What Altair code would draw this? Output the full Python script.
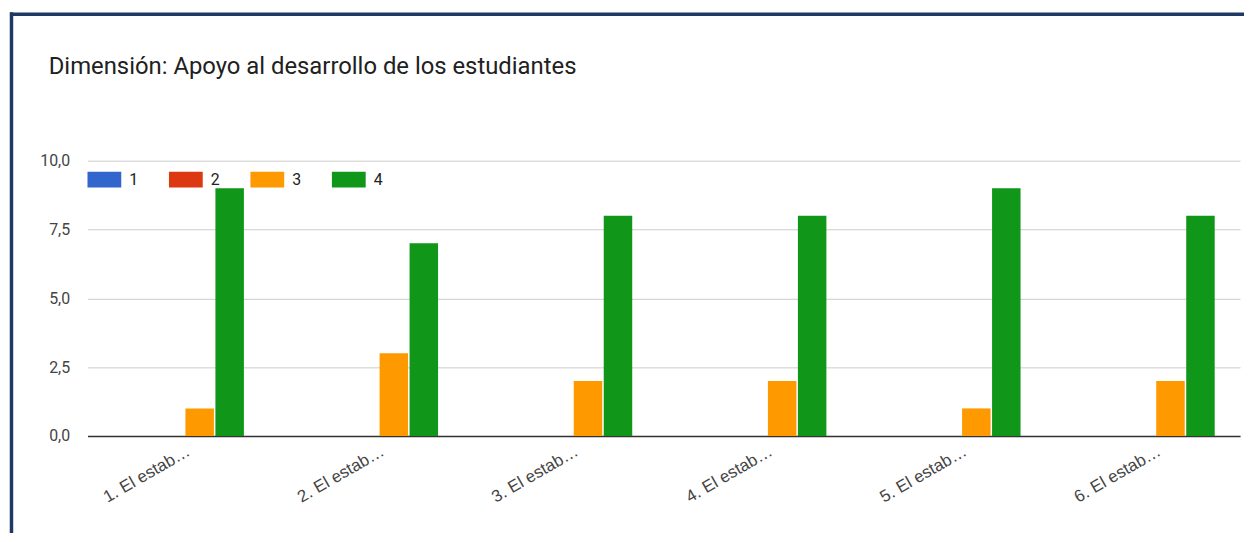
import altair as alt
import pandas as pd

categories = ["1. El estab…", "2. El estab…", "3. El estab…", "4. El estab…", "5. El estab…", "6. El estab…"]
series = ["1", "2", "3", "4"]
values_1 = [0, 0, 0, 0, 0, 0]
values_2 = [0, 0, 0, 0, 0, 0]
values_3 = [1, 3, 2, 2, 1, 2]
values_4 = [9, 7, 8, 8, 9, 8]
colors = ["#3366cc", "#dc3912", "#ff9900", "#109618"]
y_ticks = [0, 2.5, 5, 7.5, 10]
title_text = "Dimensión: Apoyo al desarrollo de los estudiantes"

rows = []
for s, vals in zip(series, [values_1, values_2, values_3, values_4]):
    for c, v in zip(categories, vals):
        rows.append({"categoria": c, "serie": s, "valor": v})
df = pd.DataFrame(rows)

bars = alt.Chart(df).mark_bar(strokeWidth=0).encode(
    x=alt.X("categoria:N", sort=categories,
            scale=alt.Scale(paddingInner=0.39, paddingOuter=0.163, align=0.6),
            axis=alt.Axis(title=None, labelAngle=-30, labelAlign="right", labelBaseline="top",
                          labelFont="Liberation Sans", labelFontSize=17, labelColor="#444444",
                          ticks=False, domainColor="#333333", domainWidth=1.5, labelPadding=7)),
    xOffset=alt.XOffset("serie:N", sort=series, scale=alt.Scale(paddingInner=0.05)),
    y=alt.Y("valor:Q", scale=alt.Scale(domain=[0, 10], nice=False),
            axis=alt.Axis(values=y_ticks, title=None,
                          labelExpr="replace(format(datum.value, '.1f'), '.', ',')",
                          ticks=False, domain=False, gridColor="#cccccc", gridWidth=1,
                          labelFont="Roboto", labelFontSize=16, labelColor="#444444",
                          labelPadding=18)),
    color=alt.Color("serie:N", sort=series,
                    scale=alt.Scale(domain=series, range=colors),
                    legend=alt.Legend(title=None, orient="none", legendX=0, legendY=2,
                                      direction="horizontal",
                                      symbolType="M-1,-0.47H1V0.47H-1Z", symbolSize=1156,
                                      symbolStrokeWidth=0, symbolOpacity=1,
                                      labelFont="Roboto", labelFontSize=16, labelColor="#222222",
                                      labelOffset=8, columnPadding=31)),
)

frame_df = pd.DataFrame({"k": [0]})
top_border = alt.Chart(frame_df).mark_rule(color="#1f3864", strokeWidth=3.5).encode(
    x=alt.value(-78), x2=alt.value(1170), y=alt.value(-147.5)
)
left_border = alt.Chart(frame_df).mark_rule(color="#1f3864", strokeWidth=3.5).encode(
    x=alt.value(-76.5), y=alt.value(-149.5), y2=alt.value(380)
)

chart = alt.layer(bars, top_border, left_border).properties(
    width=1160, height=277,
    background="white",
    autosize=alt.AutoSizeParams(type="none"),
    padding={"left": 80, "top": 152, "right": 4, "bottom": 96},
    title=alt.TitleParams(title_text, anchor="start", frame="group", dx=-39, fontSize=24,
                          font="Roboto", fontWeight="normal", color="#212121",
                          baseline="alphabetic", offset=-87.5),
).configure_view(stroke=None)

chart.save("out.html", embed_options={"renderer": "svg", "actions": False})
